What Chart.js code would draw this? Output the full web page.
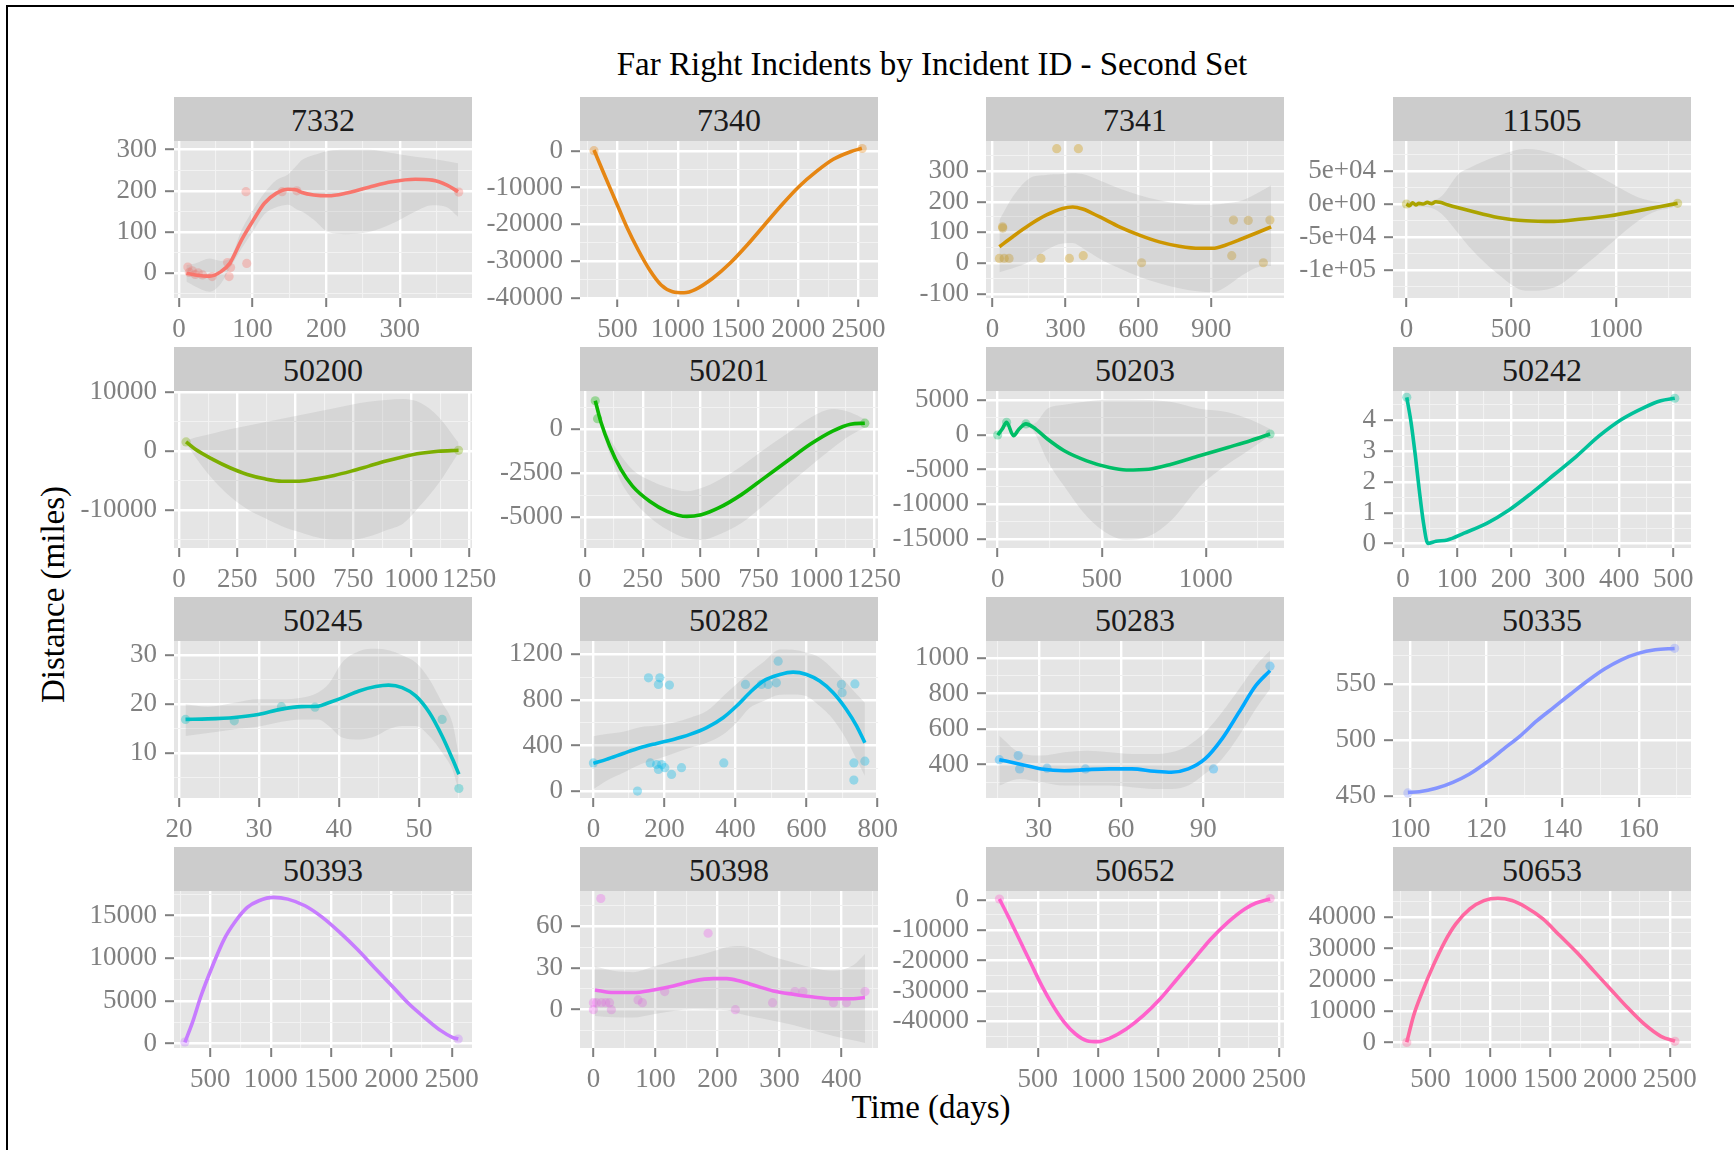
<!DOCTYPE html>
<html>
<head>
<meta charset="utf-8">
<script src="https://cdn.jsdelivr.net/npm/chart.js@4.4.1/dist/chart.umd.min.js"></script>
<style>
html,body{margin:0;padding:0;background:#ffffff;}
body{width:1734px;height:1150px;position:relative;overflow:hidden;font-family:'Liberation Serif','Times New Roman',serif;}
#frame{position:absolute;left:6px;top:5px;width:1800px;height:1200px;border-left:2px solid #000;border-top:2px solid #000;box-sizing:border-box;}
.strip{position:absolute;height:44px;background:#cccccc;color:#1a1a1a;font-size:32px;line-height:46px;text-align:center;overflow:hidden;}
.ttl{position:absolute;color:#000;font-size:33px;line-height:33px;height:33px;text-align:center;white-space:nowrap;}
canvas{position:absolute;}
</style>
</head>
<body>
<div id="frame"></div>
<div class="ttl" style="left:432px;top:48px;width:1000px;">Far Right Incidents by Incident ID - Second Set</div>
<div class="ttl" style="left:631px;top:1091px;width:600px;">Time (days)</div>
<div class="ttl" style="left:-147px;top:578px;width:400px;transform:rotate(-90deg);">Distance (miles)</div>
<script>
// ---------------- DATA ----------------
const panelIds = ['7332','7340','7341','11505','50200','50201','50203','50242','50245','50282','50283','50335','50393','50398','50652','50653'];
const seriesColors = ['#F8766D','#E68613','#CD9600','#ABA300','#7CAE00','#0CB702','#00BE67','#00C19A','#00BFC4','#00B8E7','#00A9FF','#8494FF','#C77CFF','#ED68ED','#FF61CC','#FF68A1'];

const xLimits = [[-6.8,398],[189,2661],[-27,1199],[-64,1359],[-22,1262],[-21,1267],[-56,1376],[-18.5,533],[19.36,56.64],[-37.7,801],[10.75,119.4],[95.5,173.7],[199,2667],[-21.6,459],[71,2541],[187,2677]];
const yLimits = [[-60,321],[-40080,2640],[-114,398],[-142424,95455],[-16518,10223],[-6756,2174],[-16308,6352],[-0.14,4.945],[0.76,32.8],[-61,1317],[212,1097],[448.5,588],[-504,17892],[-27.6,85.4],[-48783,2862],[-1690,48280]];

const xTickValues = [[0,100,200,300],[500,1000,1500,2000,2500],[0,300,600,900],[0,500,1000],[0,250,500,750,1000,1250],[0,250,500,750,1000,1250],[0,500,1000],[0,100,200,300,400,500],[20,30,40,50],[0,200,400,600,800],[30,60,90],[100,120,140,160],[500,1000,1500,2000,2500],[0,100,200,300,400],[500,1000,1500,2000,2500],[500,1000,1500,2000,2500]];
const xTickLabels = [['0','100','200','300'],['500','1000','1500','2000','2500'],['0','300','600','900'],['0','500','1000'],['0','250','500','750','1000','1250'],['0','250','500','750','1000','1250'],['0','500','1000'],['0','100','200','300','400','500'],['20','30','40','50'],['0','200','400','600','800'],['30','60','90'],['100','120','140','160'],['500','1000','1500','2000','2500'],['0','100','200','300','400'],['500','1000','1500','2000','2500'],['500','1000','1500','2000','2500']];
const yTickValues = [[0,100,200,300],[-40000,-30000,-20000,-10000,0],[-100,0,100,200,300],[-100000,-50000,0,50000],[-10000,0,10000],[-5000,-2500,0],[-15000,-10000,-5000,0,5000],[0,1,2,3,4],[10,20,30],[0,400,800,1200],[400,600,800,1000],[450,500,550],[0,5000,10000,15000],[0,30,60],[-40000,-30000,-20000,-10000,0],[0,10000,20000,30000,40000]];
const yTickLabels = [['0','100','200','300'],['-40000','-30000','-20000','-10000','0'],['-100','0','100','200','300'],['-1e+05','-5e+04','0e+00','5e+04'],['-10000','0','10000'],['-5000','-2500','0'],['-15000','-10000','-5000','0','5000'],['0','1','2','3','4'],['10','20','30'],['0','400','800','1200'],['400','600','800','1000'],['450','500','550'],['0','5000','10000','15000'],['0','30','60'],['-40000','-30000','-20000','-10000','0'],['0','10000','20000','30000','40000']];

const lineX = [
 [10,22,42,57,69,85,101,116,132,148,160,167,183,203,226,258,289,321,344,364,379],
 [305,386,481,576,672,767,862,957,1052,1148,1290,1433,1576,1719,1862,2004,2148,2290,2433,2527],
 [28,83,151,220,288,330,371,439,522,604,686,768,851,906,960,1029,1098,1146],
 [0,15,30,45,60,80,100,120,140,160,200,303,437,571,705,839,973,1108,1215,1295],
 [30,70,145,219,294,369,443,518,593,668,742,817,892,967,1041,1116,1204],
 [45,70,107,156,206,280,355,441,503,578,677,776,875,974,1073,1148,1210],
 [0,22,43,76,103,136,171,239,320,428,537,618,726,835,970,1106,1214,1309],
 [7,15,23,30,38,46,61,82,113,155,197,238,280,321,363,405,446,477,503],
 [20.8,23.6,26.9,29.9,32.8,35.3,37.4,38.7,40.4,42.5,44.6,46.2,47.9,49.6,51.3,52.9,54.2,55.0],
 [0,37,84,131,178,225,272,319,365,403,440,478,525,562,600,637,675,712,741,764],
 [15.6,22.8,31,39.3,47.5,55.7,63.9,72.1,78.3,84.5,90.6,96.8,103,109.1,114.3],
 [99.4,102.4,106.8,111.2,115.6,120.1,124.5,128.9,133.3,137.7,142.1,146.6,151,155.4,159.8,164.3,169.4],
 [289,352,423,519,615,711,806,902,1022,1141,1284,1428,1572,1715,1858,2003,2146,2289,2409,2504,2553],
 [2.6,32,64,97,129,161,193,215,236,263,290,322,355,387,419,438],
 [182,252,346,439,533,626,720,813,907,1000,1094,1234,1374,1514,1655,1795,1935,2075,2216,2309,2426],
 [302,359,430,523,617,712,829,947,1064,1181,1298,1440,1581,1722,1862,2003,2144,2285,2426,2543]
];
const lineY = [
 [0,-4,-7,4,24,81,129,170,194,204,202,196,190,188,194,209,222,228,226,214,198],
 [190,-6150,-13415,-20680,-27020,-32460,-36540,-38370,-38640,-37730,-34720,-30640,-25660,-20220,-14780,-9800,-5710,-2340,-270,650],
 [53,86,124,156,178,183,176,151,118,91,69,55,48,48,59,80,102,118],
 [0,-2500,2000,-1500,1000,0,2500,500,3500,2500,-1500,-10150,-20300,-25300,-26360,-22730,-17730,-10150,-3640,1000],
 [1550,290,-1420,-2850,-4000,-4740,-5140,-5140,-4740,-4170,-3425,-2570,-1710,-970,-395,-50,120],
 [1620,380,-955,-2290,-3240,-4100,-4670,-4960,-4860,-4480,-3720,-2765,-1810,-860,-95,286,343],
 [0,870,1840,-100,870,1600,1115,-580,-2280,-3730,-4700,-5040,-4940,-4215,-3000,-1790,-820,145],
 [4.74,3.92,2.83,1.75,0.66,0.01,0.08,0.12,0.34,0.66,1.1,1.64,2.24,2.83,3.49,4.03,4.41,4.63,4.71],
 [16.8,16.9,17.2,17.8,18.9,19.4,19.5,20.2,21.2,22.6,23.5,23.8,23.3,21.6,18.2,13.4,8.7,5.6],
 [243,278,330,380,418,453,497,556,643,746,863,965,1023,1044,1023,965,863,716,570,424],
 [428,404,376,366,372,376,376,363,357,376,432,545,695,845,930],
 [453.5,454.1,457.1,462.4,469.8,480.2,492,503.8,517.2,529,540.9,552.7,563.1,571.3,577,580.2,581.4],
 [160,2500,5620,9140,12260,14400,15970,16750,17140,16940,16160,14800,13040,11090,8940,6790,4650,2890,1530,750,550],
 [14.2,12.3,12.3,14.2,17,20.6,22.3,22.3,20.6,17,13.5,11.1,9.1,7.9,7.9,8.7],
 [230,-5250,-12930,-20600,-28280,-34860,-40340,-44180,-46370,-46700,-45600,-42530,-38150,-32660,-26090,-19510,-12930,-7450,-3060,-1090,230],
 [120,8600,16040,24530,31960,37800,42580,45230,45980,45230,43110,39390,34090,28780,22940,17100,11260,5960,2030,440]
];

const bandX = [
 [10,22,42,57,69,85,101,116,132,148,160,167,183,203,226,258,289,321,344,364,379],
 [],
 [28,83,151,220,288,330,371,439,522,604,686,768,851,906,960,1029,1098,1146],
 [0,60,120,169,249,303,437,571,705,839,973,1108,1200,1269,1295],
 [30,70,145,219,294,369,443,518,593,668,742,817,892,967,1041,1116,1204],
 [45,70,107,156,206,280,355,441,503,578,677,776,875,974,1073,1148,1210],
 [0,22,43,76,103,136,171,239,320,428,537,618,726,835,970,1106,1214,1309],
 [],
 [20.8,23.6,26.9,29.9,32.8,35.3,37.4,38.7,40.4,42.5,44.6,46.2,47.9,49.6,51.3,52.9,54.2,55.0],
 [0,37,84,131,178,225,272,319,365,403,440,478,525,562,600,637,675,712,741,764],
 [15.6,22.8,31,39.3,47.5,55.7,63.9,72.1,78.3,84.5,90.6,96.8,103,109.1,114.3],
 [],
 [],
 [2.6,32,64,97,129,161,193,215,236,263,290,322,355,387,419,438],
 [],
 []
];
const bandUpper = [
 [20,24,36,30,35,105,155,195,226,240,262,275,287,297,300,300,292,283,278,272,267],
 [],
 [140,216,276,287,290,293,290,270,243,221,205,194,189,190,195,205,232,254],
 [3000,3500,5000,12000,45450,55000,73000,83300,75750,55450,32730,10000,3000,1000,2000],
 [1800,2300,3000,3720,4300,4900,5500,6100,6700,7300,7900,8400,8700,8870,8200,5900,1430],
 [1700,600,-500,-1500,-2300,-2900,-3300,-3530,-3350,-2900,-2100,-1144,-250,650,1144,950,570],
 [300,1200,2100,200,1100,1900,1600,3780,4360,4845,5135,5135,5040,4750,3780,3295,2230,870],
 [],
 [19.9,19.4,20.2,20.9,20.9,21.2,22.3,24.0,28.4,30.7,31.2,30.9,29.9,28.4,25.0,20.2,16.0,9.3],
 [482,500,520,560,575,600,643,702,833,940,1040,1130,1243,1240,1215,1170,1067,950,850,775],
 [563,470,451,470,479,470,460,460,470,507,582,695,826,958,1042],
 [],
 [],
 [31,28,27,31,35,38,42,45,45.8,43,38,34,30,28,32,40],
 [],
 []
];
const bandLower = [
 [-20,-32,-45,-25,12,60,103,143,160,166,155,150,130,100,95,100,120,150,165,160,137],
 [],
 [-30,-17,4,42,64,65,48,15,-17,-45,-66,-82,-93,-95,-77,-39,-12,-10],
 [-3000,-4000,-6000,-15150,-45000,-65750,-106000,-131360,-126360,-96060,-60600,-25300,-10000,-5150,0],
 [1300,-1000,-4800,-7700,-9900,-11400,-12800,-13800,-14700,-15100,-15100,-14570,-13500,-12290,-9200,-5600,-280],
 [1500,150,-1400,-3000,-4000,-5000,-5700,-6200,-6290,-6000,-5340,-4300,-3200,-2100,-1050,-350,100],
 [-300,500,1500,-400,600,1300,600,-3700,-7400,-11730,-14390,-15120,-14630,-12290,-7430,-4215,-2040,-100],
 [],
 [13.4,14.0,14.8,15.3,16.3,16.8,16.8,15.5,13.1,12.7,13.4,14.8,15.45,15.45,13.4,10.0,6.5,2.0],
 [15,90,160,234,280,330,380,424,497,599,731,789,845,848,833,746,629,453,278,132],
 [282,319,301,282,282,282,273,263,263,282,348,432,563,714,826],
 [],
 [],
 [-4.5,-5.5,-5.7,-3.3,-1,0.3,0,-0.5,-3,-5.7,-8,-11,-15,-19,-22,-24],
 [],
 []
];

const pointX = [
 [12,14,18,22,26,32,45,66,68,70,91,92,140,160,380],
 [305,2530],
 [28,41,42,48,68,199,264,316,353,373,613,984,991,1052,1114,1141],
 [0,1295],
 [30,1204],
 [45,55,1210],
 [0,43,136,1309],
 [7,503],
 [20.8,26.9,32.8,37.0,52.9,55.0],
 [0,124,155,160,178,183,183,187,192,201,214,220,248,367,428,473,492,515,520,698,700,733,733,736,764],
 [15.6,22.5,23,33,47,93.7,114.3],
 [99.4,169.4],
 [289,2553],
 [0,0,5,12,13,20,26,29,72,79,115,185,229,289,325,338,387,408,438],
 [182,2426],
 [302,2543]
];
const pointY = [
 [15,2,6,-3,1,-4,-8,26,-8,14,198,24,198,200,197],
 [0,600],
 [15,118,114,15,15,15,373,15,373,24,1,24,140,139,1,140],
 [0,1000],
 [1550,120],
 [1620,600,343],
 [0,1840,1600,145],
 [4.74,4.71],
 [16.8,16.5,19.4,19.3,16.8,2.7],
 [247,0,994,247,232,936,190,994,232,205,930,146,205,247,936,936,936,950,1140,936,863,247,96,940,262],
 [428,451,376,380,376,376,955],
 [453,581.5],
 [200,550],
 [5,0,5,80,5,5,5,0,7,5,13,55,0,5,13,13,5,5,13],
 [230,400],
 [100,440]
];

// ---------------- LAYOUT ----------------
const colLeft = [174, 580, 986, 1393];
const stripTop = [97, 347, 597, 847];
const panelW = 298, panelH = 157, stripH = 44;
const axW = 130, padTop = 25, padRight = 50, axH = 58;
const FONT = "'Liberation Serif', 'Times New Roman', serif";

function rgba(hex, a) {
  const n = parseInt(hex.slice(1), 16);
  return 'rgba(' + ((n >> 16) & 255) + ',' + ((n >> 8) & 255) + ',' + (n & 255) + ',' + a + ')';
}
function xy(xs, ys) { return xs.map((x, i) => ({x: x, y: ys[i]})); }
function gridValues(major, lim) {
  const step = major.length > 1 ? major[1] - major[0] : 1;
  const out = [];
  const start = major[0] - step, end = major[major.length - 1] + step;
  for (let k = 0; ; k++) {
    const v = start + k * step / 2;
    if (v > end + step * 1e-6) break;
    if (v >= lim[0] && v <= lim[1]) out.push(v);
  }
  return out;
}
function majorIndex(major, v) {
  const step = major.length > 1 ? Math.abs(major[1] - major[0]) : 1;
  for (let i = 0; i < major.length; i++) if (Math.abs(major[i] - v) < step * 1e-6) return i;
  return -1;
}
function majorSet(major) {
  const step = major.length > 1 ? major[1] - major[0] : 1;
  return v => Math.abs(((v - major[0]) / step) - Math.round((v - major[0]) / step)) < 1e-6;
}

const panelBg = {
  id: 'panelBg',
  beforeDraw(chart) {
    const a = chart.chartArea, c = chart.ctx;
    c.save(); c.fillStyle = '#e5e5e5';
    c.fillRect(a.left, a.top, a.right - a.left, a.bottom - a.top);
    c.restore();
  }
};

function axis(major, labels, lim, isX) {
  const isMaj = majorSet(major);
  const cfg = {
    type: 'linear', min: lim[0], max: lim[1],
    border: {display: false},
    afterBuildTicks: s => { s.ticks = gridValues(major, lim).map(v => ({value: v})); },
    grid: {
      drawTicks: true, tickLength: 9, tickWidth: 2,
      color: c => (c.tick && isMaj(c.tick.value)) ? '#ffffff' : '#f2f2f2',
      lineWidth: c => (c.tick && isMaj(c.tick.value)) ? 2.4 : 1.1,
      tickColor: c => (c.tick && majorIndex(major, c.tick.value) >= 0) ? '#7f7f7f' : 'rgba(0,0,0,0)'
    },
    ticks: {
      autoSkip: false, maxRotation: 0, minRotation: 0,
      padding: isX ? 7 : 8, color: '#808080',
      font: {family: FONT, size: 27, lineHeight: 1.2},
      callback: v => { const i = majorIndex(major, v); return i >= 0 ? labels[i] : ''; }
    }
  };
  if (isX) cfg.afterFit = s => { s.height = axH; };
  else cfg.afterFit = s => { s.width = axW; };
  return cfg;
}

panelIds.forEach((id, p) => {
  const r = Math.floor(p / 4), c = p % 4;
  const left = colLeft[c], top = stripTop[r];
  const strip = document.createElement('div');
  strip.className = 'strip';
  strip.style.left = left + 'px'; strip.style.top = top + 'px'; strip.style.width = panelW + 'px';
  strip.textContent = id;
  document.body.appendChild(strip);

  const cv = document.createElement('canvas');
  const W = axW + panelW + padRight, H = padTop + panelH + axH;
  cv.width = W; cv.height = H;
  cv.style.width = W + 'px'; cv.style.height = H + 'px';
  cv.style.left = (left - axW) + 'px';
  cv.style.top = (top + stripH - padTop) + 'px';
  document.body.appendChild(cv);

  const col = seriesColors[p];
  const datasets = [];
  datasets.push({
    data: xy(lineX[p], lineY[p]), borderColor: col, borderWidth: 3.6,
    pointRadius: 0, fill: false, cubicInterpolationMode: 'monotone', order: 0
  });
  if (bandX[p].length) {
    datasets.push({
      data: xy(bandX[p], bandUpper[p]), borderWidth: 0, borderColor: 'rgba(0,0,0,0)',
      pointRadius: 0, fill: '+1', backgroundColor: 'rgba(153,153,153,0.2)',
      cubicInterpolationMode: 'monotone', order: 1
    });
    datasets.push({
      data: xy(bandX[p], bandLower[p]), borderWidth: 0, borderColor: 'rgba(0,0,0,0)',
      pointRadius: 0, fill: false, cubicInterpolationMode: 'monotone', order: 1
    });
  }
  datasets.push({
    data: xy(pointX[p], pointY[p]), showLine: false, pointRadius: 4.6,
    pointBackgroundColor: rgba(col, 0.35), pointBorderWidth: 0, pointBorderColor: 'rgba(0,0,0,0)',
    order: 2
  });

  new Chart(cv, {
    type: 'line',
    data: {datasets: datasets},
    options: {
      responsive: false, animation: false, events: [],
      parsing: true,
      layout: {padding: {top: padTop, right: padRight, left: 0, bottom: 0}, autoPadding: false},
      plugins: {legend: {display: false}, tooltip: {enabled: false}, title: {display: false}},
      scales: {
        x: axis(xTickValues[p], xTickLabels[p], xLimits[p], true),
        y: axis(yTickValues[p], yTickLabels[p], yLimits[p], false)
      }
    },
    plugins: [panelBg]
  });
});
</script>
</body>
</html>
